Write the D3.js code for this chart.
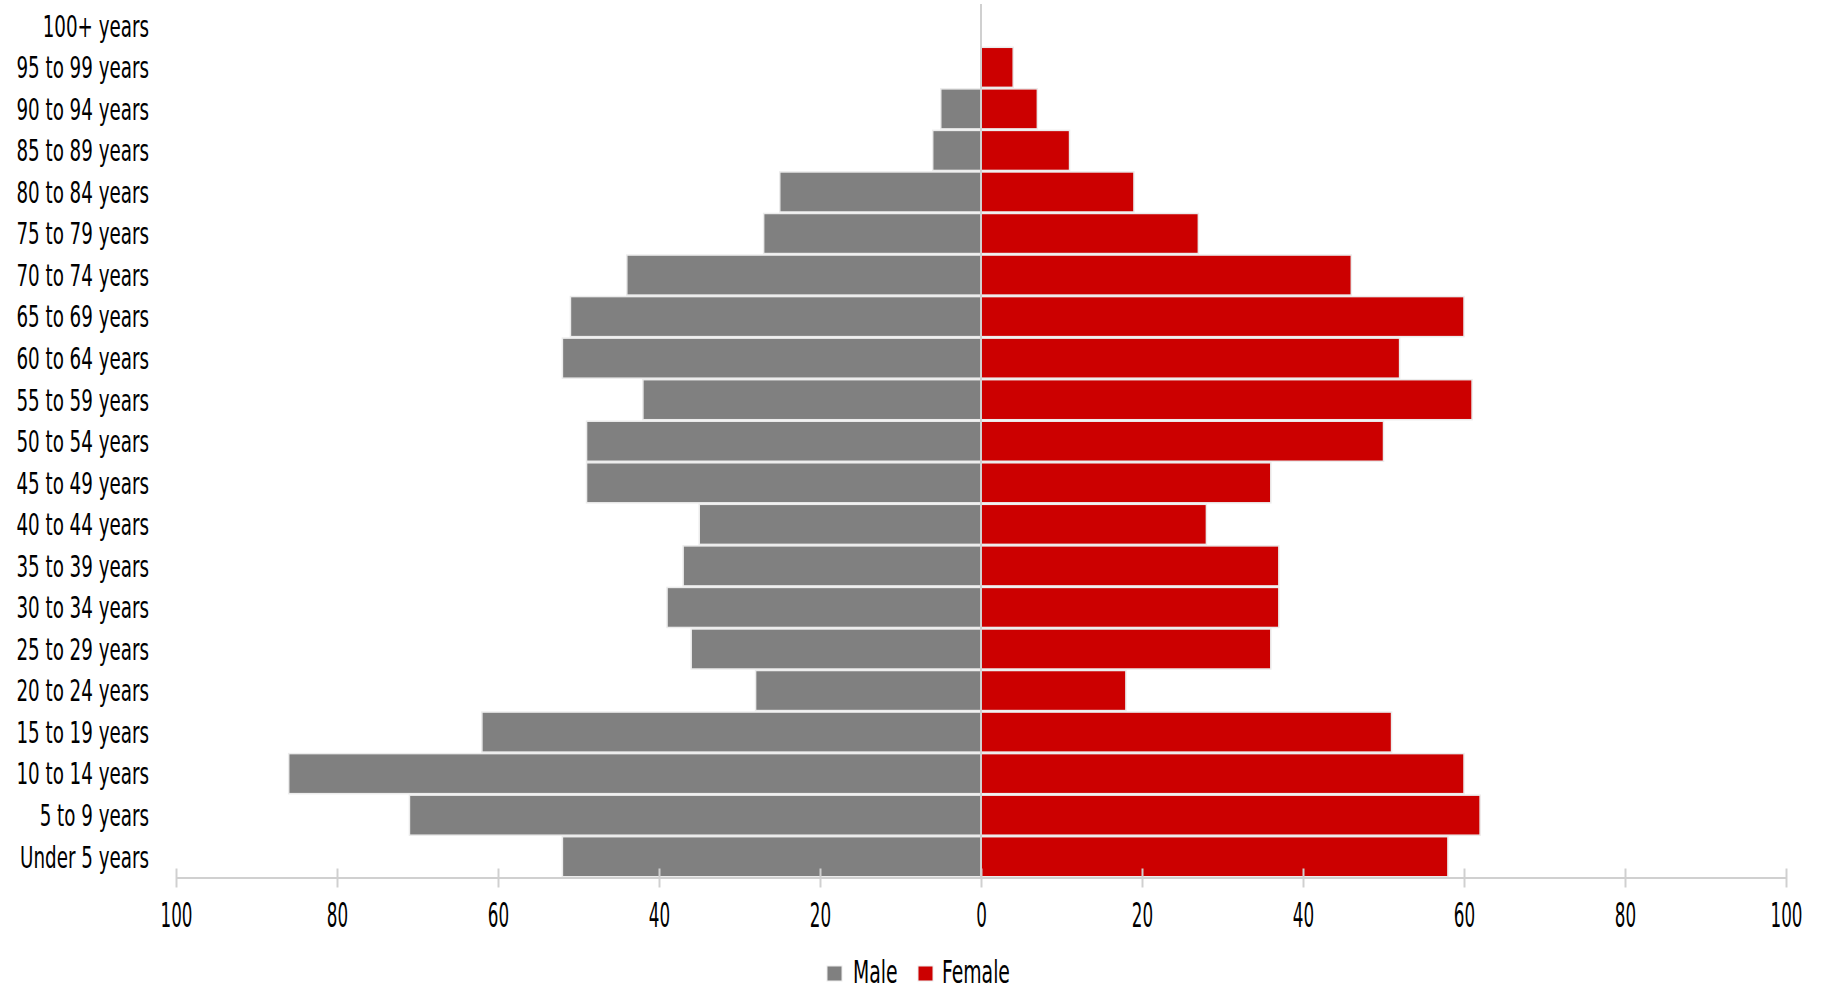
<!DOCTYPE html>
<html>
<head>
<meta charset="utf-8">
<script src="https://cdn.jsdelivr.net/npm/d3@7"></script>
<style>
  html, body { margin: 0; padding: 0; background: #fff; }
  svg { display: block; }
  text { font-family: "Liberation Sans Narrow", "DejaVu Sans Condensed", "Roboto", sans-serif; fill: #000; }
</style>
</head>
<body>
<svg id="chart" width="1823" height="990"></svg>
<script>
// ---- data ----
const categories = ["Under 5 years","5 to 9 years","10 to 14 years","15 to 19 years","20 to 24 years",
  "25 to 29 years","30 to 34 years","35 to 39 years","40 to 44 years","45 to 49 years","50 to 54 years",
  "55 to 59 years","60 to 64 years","65 to 69 years","70 to 74 years","75 to 79 years","80 to 84 years",
  "85 to 89 years","90 to 94 years","95 to 99 years","100+ years"];
const male   = [52, 71, 86, 62, 28, 36, 39, 37, 35, 49, 49, 42, 52, 51, 44, 27, 25, 6, 5, 0, 0];
const female = [58, 62, 60, 51, 18, 36, 37, 37, 28, 36, 50, 61, 52, 60, 46, 27, 19, 11, 7, 4, 0];
const xTicks = [-100, -80, -60, -40, -20, 0, 20, 40, 60, 80, 100];
const seriesNames = ["Male", "Female"];
const seriesColors = ["#808080", "#cc0000"];

// ---- layout ----
const svg = d3.select("#chart");
const plotLeft = 176, plotRight = 1786, plotTop = 5, plotBottom = 877.5;

const x = d3.scaleLinear().domain([-100, 100]).range([plotLeft, plotRight]);
const y = d3.scaleBand().domain(categories.slice().reverse()).range([plotTop, plotBottom]).padding(0);

function fitScale(size, sample, target) {
  // horizontal compression so that the narrow reference font is approximated
  const t = svg.append("text").attr("font-size", size).text(sample);
  const w = t.node().getComputedTextLength();
  t.remove();
  return target / w;
}

// bars
const rows = categories.map((c, i) => ({ c, m: male[i], f: female[i] }));
const gBars = svg.append("g");
gBars.selectAll("rect.male").data(rows).join("rect")
  .attr("class", "male")
  .attr("x", d => x(-d.m))
  .attr("y", d => y(d.c) + 0.75)
  .attr("width", d => x(0) - x(-d.m))
  .attr("height", y.bandwidth() - 1.5)
  .attr("fill", seriesColors[0])
  .attr("stroke", "#ececec")
  .attr("stroke-width", 1.5)
  .style("display", d => d.m > 0 ? null : "none");
gBars.selectAll("rect.female").data(rows).join("rect")
  .attr("class", "female")
  .attr("x", x(0))
  .attr("y", d => y(d.c) + 0.75)
  .attr("width", d => x(d.f) - x(0))
  .attr("height", y.bandwidth() - 1.5)
  .attr("fill", seriesColors[1])
  .attr("stroke", "#ececec")
  .attr("stroke-width", 1.5)
  .style("display", d => d.f > 0 ? null : "none");

// center line
svg.append("line")
  .attr("x1", x(0)).attr("x2", x(0))
  .attr("y1", plotTop - 1).attr("y2", plotBottom)
  .attr("stroke", "#d0d0d0").attr("stroke-width", 2);

// y axis labels
const ySize = 30;
const sy = fitScale(ySize, "Under 5 years", 129);
const yAxis = svg.append("g").attr("transform", "translate(149,0)")
  .call(d3.axisLeft(y).tickSize(0).tickPadding(0));
yAxis.select(".domain").remove();
yAxis.selectAll("text")
  .attr("x", 0).attr("dy", "0.36em")
  .attr("font-size", ySize)
  .attr("font-family", null)
  .attr("fill", "#000")
  .attr("transform", `scale(${sy},1)`);

// x axis
const xSize = 34;
const sx = fitScale(xSize, "100", 32);
const xAxis = svg.append("g").attr("transform", `translate(0,${plotBottom})`)
  .call(d3.axisBottom(x).tickValues(xTicks).tickFormat(d => Math.abs(d)).tickSize(0).tickSizeOuter(0));
xAxis.select(".domain").attr("stroke", "#d0d0d0").attr("stroke-width", 2);
xAxis.selectAll(".tick line").attr("y1", -9).attr("y2", 10).attr("stroke", "#d0d0d0").attr("stroke-width", 2);
xAxis.selectAll(".tick text")
  .attr("y", 49.5).attr("dy", null)
  .attr("font-size", xSize)
  .attr("font-family", null)
  .attr("fill", "#000")
  .attr("transform", `scale(${sx},1)`);

// legend
const lSize = 32;
const sl = fitScale(lSize, "Female", 68);
const legendItems = [
  { name: seriesNames[0], color: seriesColors[0], sx: 827, tx: 853 },
  { name: seriesNames[1], color: seriesColors[1], sx: 918, tx: 942 }
];
const gLeg = svg.append("g");
legendItems.forEach(it => {
  gLeg.append("rect").attr("x", it.sx).attr("y", 966).attr("width", 15).attr("height", 15)
    .attr("fill", it.color).attr("stroke", "#ececec").attr("stroke-width", 1);
  gLeg.append("text")
    .attr("transform", `translate(${it.tx},983) scale(${sl},1)`)
    .attr("font-size", lSize)
    .text(it.name);
});
</script>
</body>
</html>
